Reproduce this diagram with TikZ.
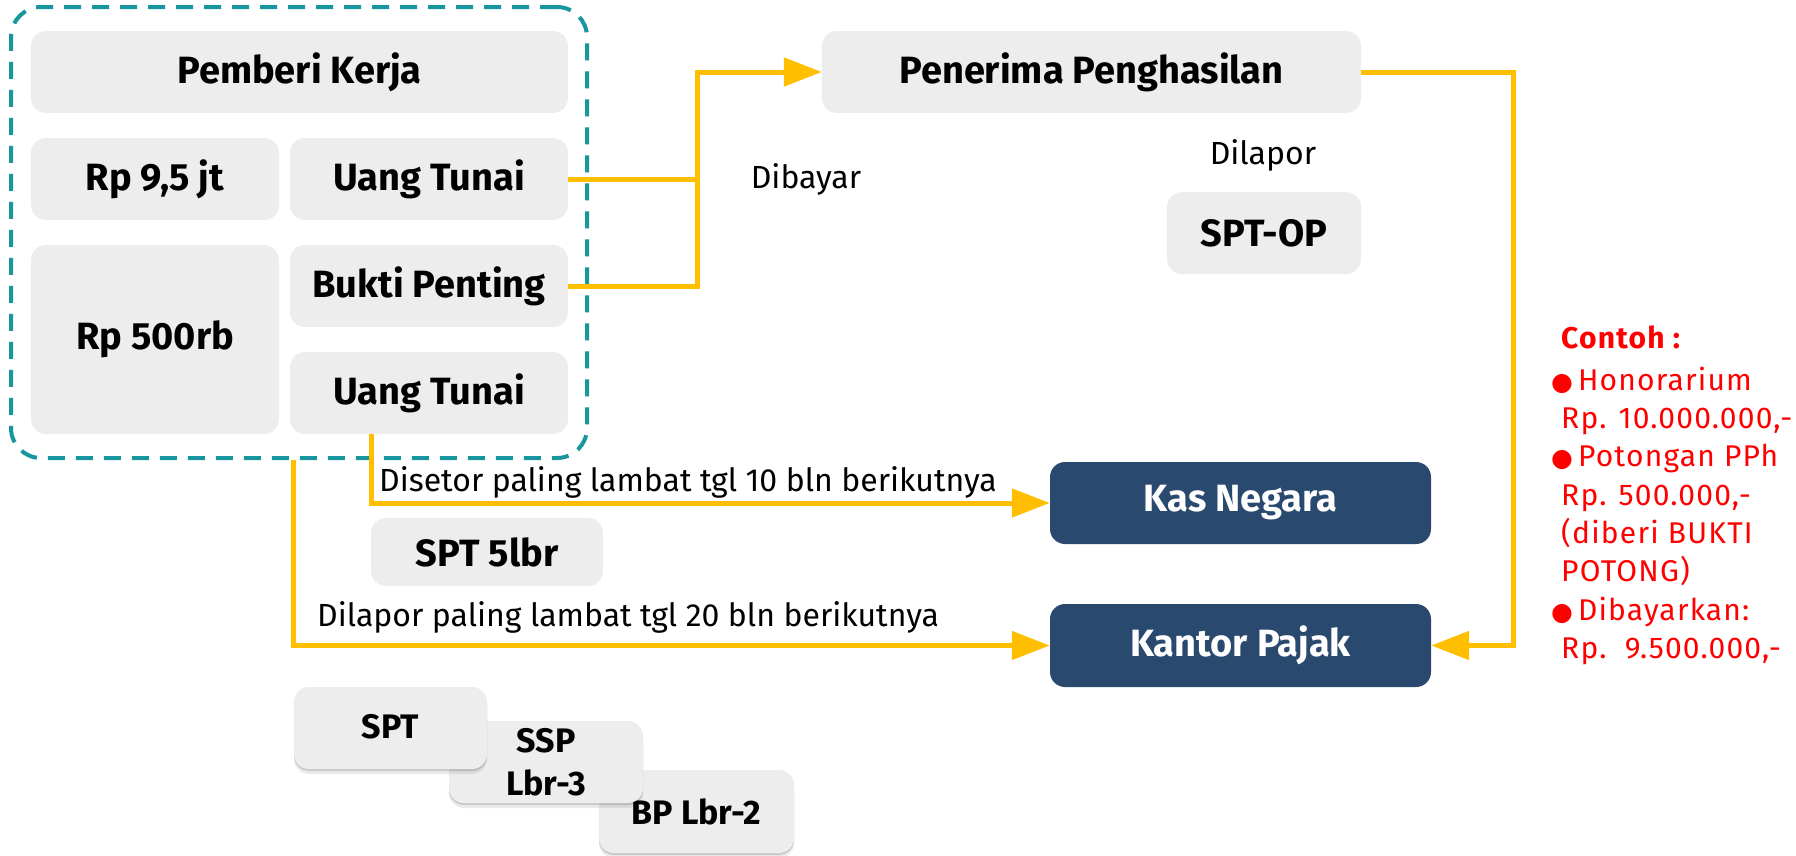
\documentclass[tikz,border=0pt]{standalone}
\usepackage{fontspec}
\setmainfont{Fira Sans}
\newfontfamily\dejavu{DejaVu Sans}
\newfontfamily\widefont[LetterSpace=4]{Fira Sans}
\usetikzlibrary{arrows.meta,shadows,calc}
\definecolor{boxgray}{HTML}{EDEDED}
\definecolor{navy}{HTML}{294A6E}
\definecolor{gold}{HTML}{FFBE00}
\definecolor{tealdash}{HTML}{17979D}
\definecolor{redtxt}{HTML}{FF0000}
\newcommand\bulmark{\hspace*{-10pt}{\dejavu\fontsize{25}{25}\selectfont ●}\hspace*{5pt}}
\tikzset{
  sz/.style 2 args={minimum width=#1pt, minimum height=#2pt},
  gbox/.style={fill=boxgray, rounded corners=15pt, inner sep=0pt, align=center,
    font=\fontsize{38}{44}\selectfont\bfseries, text=black},
  nbox/.style={gbox, fill=navy, text=white},
  pbox/.style={gbox, font=\fontsize{34}{43}\selectfont\bfseries,
    drop shadow={shadow xshift=0pt, shadow yshift=-2pt, opacity=0.14, fill=black},
    drop shadow={shadow xshift=0pt, shadow yshift=-5pt, opacity=0.08, fill=black}},
  flow/.style={draw=gold, line width=5pt},
  arr/.style={flow, -{Triangle[length=38pt,width=28pt]}},
  lbl/.style={font=\fontsize{32}{36}\selectfont, inner sep=0pt, text=black},
  container/.style={draw=tealdash, line width=4pt, rounded corners=30pt,
    dash pattern=on 17pt off 11pt, inner sep=0pt},
}
\begin{document}
\begin{tikzpicture}[x=1pt,y=-1pt]
\useasboundingbox (0,0) rectangle (1796,855);

% container
\node[container, sz={576}{451}] (cont) at (299,232.5) {};

% employer boxes
\node[gbox, sz={537}{82}] (pk) at (299.5,72) {Pemberi Kerja};
\node[gbox, sz={248}{82}] (r95) at (155,179) {Rp 9,5 jt};
\node[gbox, sz={278}{82}] (ut1) at (429,179) {Uang Tunai};
\node[gbox, sz={248}{189}] (r500) at (155,339.5) {Rp 500rb};
\node[gbox, sz={278}{82}] (bp) at (429,286) {Bukti Penting};
\node[gbox, sz={278}{82}] (ut2) at (429,393) {Uang Tunai};

% right side
\node[gbox, sz={539}{82}] (pp) at (1091.5,72) {Penerima Penghasilan};
\node[gbox, sz={194}{82}] (spop) at (1264,233) {SPT-OP};
\node[nbox, sz={381}{82}] (kn) at (1240.5,503) {Kas Negara};
\node[nbox, sz={381}{83}] (kpj) at (1240.5,645.5) {Kantor Pajak};
\node[gbox, sz={232}{68}] (spt5) at (487,552) {SPT 5lbr};

% stacked papers
\node[pbox, sz={195}{83}] (bpl) at (696.5,811.5) {\raisebox{-5pt}{BP Lbr-2}};
\node[pbox, sz={194}{82}] (ssp) at (546,762) {SSP\\Lbr-3};
\node[pbox, sz={193}{82}] (spt) at (390.5,728) {\raisebox{3pt}{SPT}};

% labels
\node[lbl] (dibayar) at (806,179) {Dibayar};
\node[lbl] (dilapor) at (1263,155) {Dilapor};
\node[lbl, anchor=west] (disetor) at (379,482) {Disetor paling lambat tgl 10 bln berikutnya};
\node[lbl, anchor=west] (dilapor2) at (317,617) {Dilapor paling lambat tgl 20 bln berikutnya};

% example list
\node[anchor=north west, align=left, inner sep=0pt, text=redtxt,
  font=\widefont\fontsize{30}{38.3}\selectfont] (contoh) at (1561,326)
  {\textbf{Contoh :}\\[3pt]
   \bulmark Honorarium\\
   Rp. 10.000.000,-\\
   \bulmark Potongan PPh\\
   Rp. 500.000,-\\
   (diberi BUKTI\\
   POTONG)\\
   \bulmark Dibayarkan:\\
   Rp.\ \ 9.500.000,-};

% connectors
\coordinate (j1) at (697,286);
\draw[flow] (ut1.east) -- (ut1.east -| j1);
\draw[arr] (bp.east) -- (j1) |- (pp.west);
\coordinate (j2) at (1513,72);
\draw[arr] (pp.east) -- (j2) |- (kpj.east);
\draw[arr] ([xshift=-58pt]ut2.south) |- (kn.west);
\draw[arr] ([xshift=-6pt]cont.south) |- (kpj.west);
\end{tikzpicture}
\end{document}
